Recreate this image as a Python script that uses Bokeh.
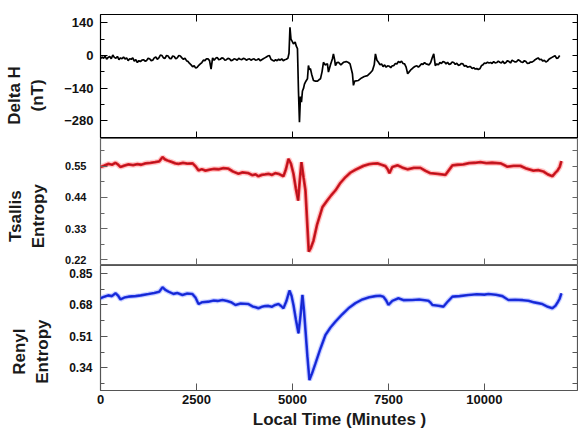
from bokeh.plotting import figure
from bokeh.layouts import column
from bokeh.models import FixedTicker, LinearAxis, Range1d
from bokeh.embed import file_html
from bokeh.resources import INLINE

# ---------------- data ----------------
x_ticks = [0, 2500, 5000, 7500, 10000]

dh_ticks = [-280, -140, 0, 140]
dh_minor = [-350, -210, -70, 70]
ts_ticks = [0.22, 0.33, 0.44, 0.55]
ts_minor = [0.275, 0.385, 0.495, 0.605]
re_ticks = [0.34, 0.51, 0.68, 0.85]
re_minor = [0.255, 0.425, 0.595, 0.765]

# Delta H, quiet days before the storm (one reading every 40 minutes)
dh_quiet_t = list(range(0, 4881, 40))
dh_quiet_v = [-14, -6, -12, -2, -16, -8, -4, -14, 2, -8,
              -12, -4, -18, -10, -14, -6, -15, -10, -22, -14,
              -16, -10, -24, -18, -30, -22, -26, -20, -18, -24,
              -22, -12, -14, -22, -20, -10, -6, -16, -10, 2,
              0, -10, -12, 0, -2, -12, -14, -2, -4, -14,
              -10, 0, -2, -10, -16, -12, -22, -26, -34, -40,
              -48, -44, -54, -50, -42, -36, -30, -20, -22, -14,
              -14, -22, -58, -10, -20, -12, -8, -18, -16, -10,
              -12, -20, -18, -12, -14, -22, -20, -14, -16, -20,
              -12, -16, -18, -12, -14, -20, -16, -14, -20, -16,
              -14, -20, -18, -14, -22, -18, -14, -10, -6, -2,
              0, -16, -20, -24, -18, -22, -16, -20, -14, -22,
              -18, -16, -12]

# Delta H, storm
dh_storm_t = [4910, 4935, 4961, 4990, 5026, 5070, 5100, 5130, 5156, 5182,
              5208, 5234, 5260, 5290, 5312, 5350, 5390, 5416, 5440, 5468,
              5500, 5547, 5600, 5651, 5690, 5729, 5770, 5807, 5850, 5911,
              5937, 5990, 6041, 6067, 6100, 6119, 6160, 6198, 6260, 6328,
              6400, 6458, 6500, 6562, 6588, 6620, 6718, 6800, 6870, 6953,
              7020, 7083, 7130, 7161, 7200]
dh_storm_v = [10, 121, 70, 62, 50, 58, 40, 30, -150, -286,
              -176, -200, -152, -140, -123, -110, -100, -43, -60, -57,
              -80, -107, -110, -110, -104, -100, -70, -29, -40, -36,
              -71, -40, -14, 7, -20, -43, -30, -29, -40, -29,
              -26, -30, -36, -78, -128, -110, -107, -96, -90, -86,
              -76, -64, -40, 7, -20]

# Delta H, recovery (one reading every 40 minutes)
dh_rec_t = list(range(7240, 11961, 40))
dh_rec_v = [-29, -40, -36, -48, -40, -50, -44, -46, -52, -44,
            -43, -34, -36, -26, -30, -24, -34, -36, -50, -78,
            -70, -62, -56, -50, -46, -44, -50, -43, -36, -38,
            -30, -36, -38, -40, -30, -10, 7, -43, -36, -40,
            -30, -34, -26, -28, -36, -29, -38, -36, -28, -30,
            -38, -33, -42, -40, -34, -36, -46, -43, -50, -48,
            -48, -56, -52, -58, -56, -60, -57, -44, -40, -32,
            -34, -29, -32, -30, -34, -26, -32, -30, -24, -29,
            -32, -24, -34, -30, -22, -26, -32, -20, -24, -28,
            -26, -18, -22, -28, -30, -22, -26, -34, -33, -28,
            -28, -24, -18, -14, -10, -18, -16, -24, -20, -28,
            -24, -16, -12, -8, -4, -1, -12, -10, 0]

ts_t = [0, 100, 208, 300, 391, 460, 521, 620, 729, 850, 960, 1060, 1172, 1300, 1420, 1530,
        1615, 1680, 1745, 1850, 1950, 2031, 2150, 2260, 2396, 2480, 2552, 2640, 2734, 2850,
        2960, 3073, 3200, 3333, 3450, 3594, 3700, 3854, 3960, 4040, 4114, 4200, 4290, 4375,
        4460, 4550, 4635, 4700, 4765, 4830, 4896, 4960, 5026, 5090, 5148, 5190, 5234, 5290,
        5338, 5380, 5425, 5480, 5547, 5643, 5781, 5903, 6010, 6119, 6250, 6380, 6510, 6640,
        6849, 7000, 7100, 7213, 7320, 7421, 7480, 7526, 7600, 7734, 7860, 7994, 8160, 8333,
        8460, 8593, 8780, 8984, 9080, 9166, 9300, 9453, 9600, 9750, 9895, 10050, 10200, 10416,
        10500, 10598, 10760, 10937, 11100, 11275, 11400, 11536, 11650, 11770, 11850, 11900,
        11960, 12005]
ts_v = [0.548, 0.553, 0.559, 0.556, 0.563, 0.556, 0.548, 0.553, 0.557, 0.555, 0.558, 0.556, 0.561, 0.563, 0.565, 0.568,
        0.583, 0.575, 0.571, 0.566, 0.561, 0.559, 0.563, 0.560, 0.561, 0.550, 0.536, 0.540, 0.535, 0.539,
        0.541, 0.540, 0.544, 0.542, 0.532, 0.524, 0.529, 0.526, 0.519, 0.522, 0.515, 0.520, 0.522, 0.524,
        0.520, 0.526, 0.524, 0.520, 0.515, 0.540, 0.577, 0.560, 0.524, 0.470, 0.429, 0.500, 0.565, 0.510,
        0.465, 0.360, 0.248, 0.262, 0.287, 0.345, 0.406, 0.429, 0.448, 0.465, 0.492, 0.512, 0.528, 0.538,
        0.552, 0.558, 0.560, 0.561, 0.556, 0.551, 0.540, 0.526, 0.548, 0.554, 0.546, 0.540, 0.545, 0.545,
        0.535, 0.526, 0.524, 0.520, 0.538, 0.554, 0.556, 0.557, 0.562, 0.563, 0.565, 0.562, 0.563, 0.561,
        0.556, 0.549, 0.552, 0.552, 0.542, 0.535, 0.537, 0.532, 0.522, 0.515, 0.528, 0.535,
        0.548, 0.569]

re_t = [0, 100, 200, 300, 391, 460, 521, 620, 729, 911, 1050, 1250, 1400, 1530, 1615, 1700,
        1771, 1900, 2000, 2135, 2260, 2396, 2480, 2552, 2650, 2812, 2950, 3050, 3177, 3300,
        3400, 3515, 3650, 3854, 3960, 4040, 4114, 4200, 4290, 4375, 4460, 4550, 4635, 4700,
        4765, 4840, 4922, 4975, 5026, 5090, 5156, 5208, 5260, 5300, 5338, 5390, 5442, 5510,
        5599, 5730, 5859, 5990, 6119, 6300, 6458, 6640, 6822, 7000, 7161, 7280, 7369, 7440,
        7500, 7600, 7760, 7900, 8125, 8300, 8541, 8600, 8645, 8800, 8932, 9050, 9166, 9350,
        9583, 9800, 10000, 10104, 10300, 10468, 10624, 10800, 11000, 11145, 11300, 11510,
        11650, 11770, 11850, 11900, 11960, 12005]
re_v = [0.716, 0.725, 0.732, 0.728, 0.743, 0.730, 0.710, 0.720, 0.725, 0.728, 0.732, 0.739, 0.745, 0.752, 0.776, 0.760,
        0.752, 0.740, 0.745, 0.734, 0.742, 0.739, 0.718, 0.685, 0.695, 0.698, 0.704, 0.702, 0.707, 0.702,
        0.695, 0.680, 0.688, 0.685, 0.672, 0.668, 0.662, 0.670, 0.674, 0.675, 0.670, 0.680, 0.685, 0.675,
        0.662, 0.700, 0.758, 0.730, 0.680, 0.600, 0.527, 0.620, 0.734, 0.650, 0.545, 0.400, 0.274, 0.310,
        0.364, 0.445, 0.518, 0.558, 0.590, 0.630, 0.662, 0.690, 0.710, 0.722, 0.728, 0.730, 0.725, 0.705,
        0.680, 0.702, 0.716, 0.706, 0.707, 0.710, 0.703, 0.692, 0.680, 0.676, 0.671, 0.700, 0.725, 0.728,
        0.734, 0.738, 0.736, 0.739, 0.735, 0.728, 0.707, 0.708, 0.706, 0.703, 0.694, 0.685,
        0.670, 0.662, 0.676, 0.692, 0.715, 0.743]

assert len(dh_quiet_t) == len(dh_quiet_v), (len(dh_quiet_t), len(dh_quiet_v))
assert len(dh_storm_t) == len(dh_storm_v), (len(dh_storm_t), len(dh_storm_v))
assert len(dh_rec_t) == len(dh_rec_v), (len(dh_rec_t), len(dh_rec_v))
assert len(ts_t) == len(ts_v), (len(ts_t), len(ts_v))
assert len(re_t) == len(re_v), (len(re_t), len(re_v))

dh_t = dh_quiet_t + dh_storm_t + dh_rec_t
dh_v = dh_quiet_v + dh_storm_v + dh_rec_v

# ---------------- layout ----------------
FONT = "Liberation Sans"
NB = "\u00a0"
FRAME_W = 478
x_range = Range1d(0, 12450)


def base(frame_h, yr, border_top, border_bottom, frame_color):
    p = figure(frame_width=FRAME_W, frame_height=frame_h, x_range=x_range,
               y_range=Range1d(*yr),
               output_backend="svg", toolbar_location=None,
               min_border_left=100, min_border_right=0,
               min_border_top=border_top, min_border_bottom=border_bottom)
    p.xgrid.visible = False
    p.ygrid.visible = False
    p.outline_line_color = frame_color
    p.outline_line_width = 1.2
    return p


def ticks_in(ax):
    ax.major_tick_in = 7
    ax.major_tick_out = 0
    ax.minor_tick_in = 4
    ax.minor_tick_out = 0
    ax.axis_line_color = None


def tick_only(ax, ticks, color, length=6):
    # an axis that only shows inward tick marks and no labels
    ax.ticker = FixedTicker(ticks=[], minor_ticks=ticks)
    ax.major_tick_in = 0
    ax.major_tick_out = 0
    ax.minor_tick_in = length
    ax.minor_tick_out = 0
    ax.axis_line_color = None
    ax.minor_tick_line_color = color
    ax.major_label_standoff = 0
    return ax


def style_y(p, ticks, minor, label, size, standoff, lab_standoff, color):
    ax = p.yaxis[0]
    ax.ticker = FixedTicker(ticks=ticks, minor_ticks=minor)
    ticks_in(ax)
    ax.major_tick_line_color = color
    ax.minor_tick_line_color = color
    ax.major_label_text_font = FONT
    ax.major_label_text_font_style = "bold"
    ax.major_label_text_font_size = size
    ax.major_label_text_color = "#111111"
    ax.major_label_standoff = standoff
    ax.axis_label = label
    ax.axis_label_text_font = FONT
    ax.axis_label_text_font_style = "bold"
    ax.axis_label_text_font_size = "17px"
    ax.axis_label_text_color = "#1a1a1a"
    ax.axis_label_standoff = lab_standoff
    p.add_layout(tick_only(LinearAxis(), sorted(ticks + minor), color, 6), "right")


# Panel 1: Delta H
p1 = base(124, (-356, 176), 14, 0, "black")
tick_only(p1.xaxis[0], x_ticks[1:], "black", 7)
p1.add_layout(tick_only(LinearAxis(), x_ticks[1:], "black", 7), "above")
style_y(p1, dh_ticks, dh_minor, "Delta H" + NB * 8 + "\n(nT)" + NB * 8, "13px", 7, 14, "black")
p1.line(dh_t, dh_v, line_color="black", line_width=1.7)

# Panel 2: Tsallis entropy
p2 = base(127, (0.199, 0.649), 0, 0, "#666666")
tick_only(p2.xaxis[0], x_ticks[1:], "#666666", 7)
style_y(p2, ts_ticks, ts_minor, "Tsallis" + NB * 6 + "\nEntropy" + NB * 6, "11px", 14, 14, "#666666")
p2.line(ts_t, ts_v, line_color="#ff8f8f", line_width=5.5, line_alpha=0.45)
p2.line(ts_t, ts_v, line_color="#e3202a", line_width=2.8)
p2.line(ts_t, ts_v, line_color="#a3121a", line_width=1.0)

# Panel 3: Renyi entropy
p3 = base(125, (0.2175, 0.8935), 0, 40, "#555555")
ax = p3.xaxis[0]
ax.ticker = FixedTicker(ticks=x_ticks)
ticks_in(ax)
ax.major_tick_line_color = "#555555"
ax.major_label_text_font = FONT
ax.major_label_text_font_style = "bold"
ax.major_label_text_font_size = "13px"
ax.major_label_text_color = "#111111"
ax.major_label_standoff = 4
ax.axis_label = "Local Time (Minutes )"
ax.axis_label_text_font = FONT
ax.axis_label_text_font_style = "bold"
ax.axis_label_text_font_size = "17px"
ax.axis_label_text_color = "#1a1a1a"
ax.axis_label_standoff = 3
style_y(p3, re_ticks, re_minor, "Renyl" + NB * 10 + "\nEntropy" + NB * 10, "12px", 8, 14, "#555555")
p3.line(re_t, re_v, line_color="#93a0ff", line_width=5.0, line_alpha=0.45)
p3.line(re_t, re_v, line_color="#2238f0", line_width=2.6)
p3.line(re_t, re_v, line_color="#1420b8", line_width=0.9)

layout = column(p1, p2, p3, spacing=0)

open("out.html", "w").write(file_html(layout, INLINE))
